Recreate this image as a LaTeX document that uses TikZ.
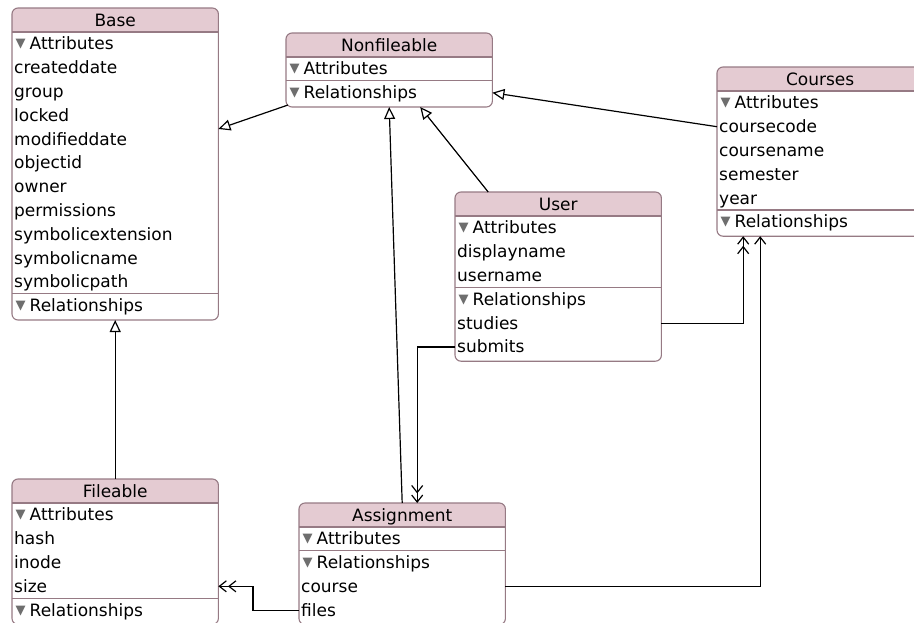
\documentclass[tikz,border=0pt]{standalone}
\usepackage{fontspec}
\setmainfont{DejaVu Sans}
\usetikzlibrary{arrows.meta}
\definecolor{entfill}{RGB}{228,203,210}
\definecolor{entline}{RGB}{150,122,132}
\definecolor{trigray}{RGB}{110,110,110}
\newcommand{\rowfont}{\fontsize{17}{18}\selectfont}
\newcommand{\sect}[1]{\kern1.5pt\raisebox{2pt}{\textcolor{trigray}{\fontsize{13}{13}\selectfont ▼}}\kern4pt #1}
\newcommand{\entity}[4]{% name, top left, number of rows, title
  \node[entity, minimum height={26pt+#3*23.8pt}] (#1) at #2 {};
  \begin{scope}
    \clip[rounded corners=6pt] (#1.north west) rectangle (#1.south east);
    \fill[entfill] (#1.north west) rectangle ([yshift=-24pt]#1.north east);
  \end{scope}
  \draw[entline, line width=1.1pt] ([yshift=-24pt]#1.north west) -- ([yshift=-24pt]#1.north east);
  \draw[entline, line width=1.1pt, rounded corners=6pt] (#1.north west) rectangle (#1.south east);
  \node[row, anchor=center] (#1-title) at ([yshift=-12pt]#1.north) {#4};
}
\newcommand{\entityrows}[2]{% name, rows
  \foreach \txt [count=\i] in {#2}
    \node[row] (#1-\i) at ([xshift=2pt, yshift={-24pt-(\i-0.5)*23.8pt}]#1.north west) {\txt};
}
\newcommand{\entitysep}[2]{% name, rows above the line
  \draw[entline, line width=1.1pt] ([yshift={-24pt-#2*23.8pt}]#1.north west) -- ([yshift={-24pt-#2*23.8pt}]#1.north east);
}
\begin{document}
\begin{tikzpicture}[x=1pt, y=-1pt,
  entity/.style={rectangle, rounded corners=6pt, fill=white, minimum width=206pt, inner sep=0pt, anchor=north west},
  row/.style={anchor=west, inner sep=0pt, font=\rowfont, text height=12pt, text depth=0pt},
  link/.style={line width=1.2pt},
  isa/.style={link, -{Triangle[open, fill=white, length=12pt, width=11pt]}},
  toone/.style={link, -{Straight Barb[length=7pt, width=11pt]}},
  tomany/.style={link, -{Straight Barb[length=7pt, width=11pt, sep=1pt] Straight Barb[length=7pt, width=11pt]}}]
\useasboundingbox (0,0) rectangle (914,622);
\clip (0,0) rectangle (914,622);

% entities
\entity{base}{(12,8)}{12}{Base}
\entityrows{base}{\sect{Attributes}, createddate, group, locked, modifieddate, objectid, owner, permissions, symbolicextension, symbolicname, symbolicpath, \sect{Relationships}}
\entitysep{base}{11}

\entity{nonf}{(286,33)}{2}{Nonfileable}
\entityrows{nonf}{\sect{Attributes}, \sect{Relationships}}
\entitysep{nonf}{1}

\entity{courses}{(717,67)}{6}{Courses}
\entityrows{courses}{\sect{Attributes}, coursecode, coursename, semester, year, \sect{Relationships}}
\entitysep{courses}{5}

\entity{user}{(455,192)}{6}{User}
\entityrows{user}{\sect{Attributes}, displayname, username, \sect{Relationships}, studies, submits}
\entitysep{user}{3}

\entity{fileable}{(12,479)}{5}{Fileable}
\entityrows{fileable}{\sect{Attributes}, hash, inode, size, \sect{Relationships}}
\entitysep{fileable}{4}

\entity{assign}{(299,503)}{4}{Assignment}
\entityrows{assign}{\sect{Attributes}, \sect{Relationships}, course, files}
\entitysep{assign}{1}

% connectors
\draw[isa] ([shift={(2pt,2pt)}]nonf.south west) -- ([yshift=35pt]base.east);
\draw[isa] (courses.west |- courses-2) -- (nonf.east |- nonf-2);
\draw[isa] ([xshift=-70pt]user.north) -- ([xshift=31pt]nonf.south);
\draw[isa] (assign.north) -- (nonf.south);
\draw[isa] (fileable.north) -- (base.south);
\draw[tomany] (user.east |- user-5) -| ([xshift=-77pt]courses.south);
\draw[toone] (assign.east |- assign-3) -| ([xshift=-60pt]courses.south);
\draw[tomany] (user.west |- user-6) -| ([xshift=15pt]assign.north);
\draw[tomany] (assign.west |- assign-4) -- ++(-46pt,0) |- (fileable.east |- fileable-4);
\end{tikzpicture}
\end{document}
